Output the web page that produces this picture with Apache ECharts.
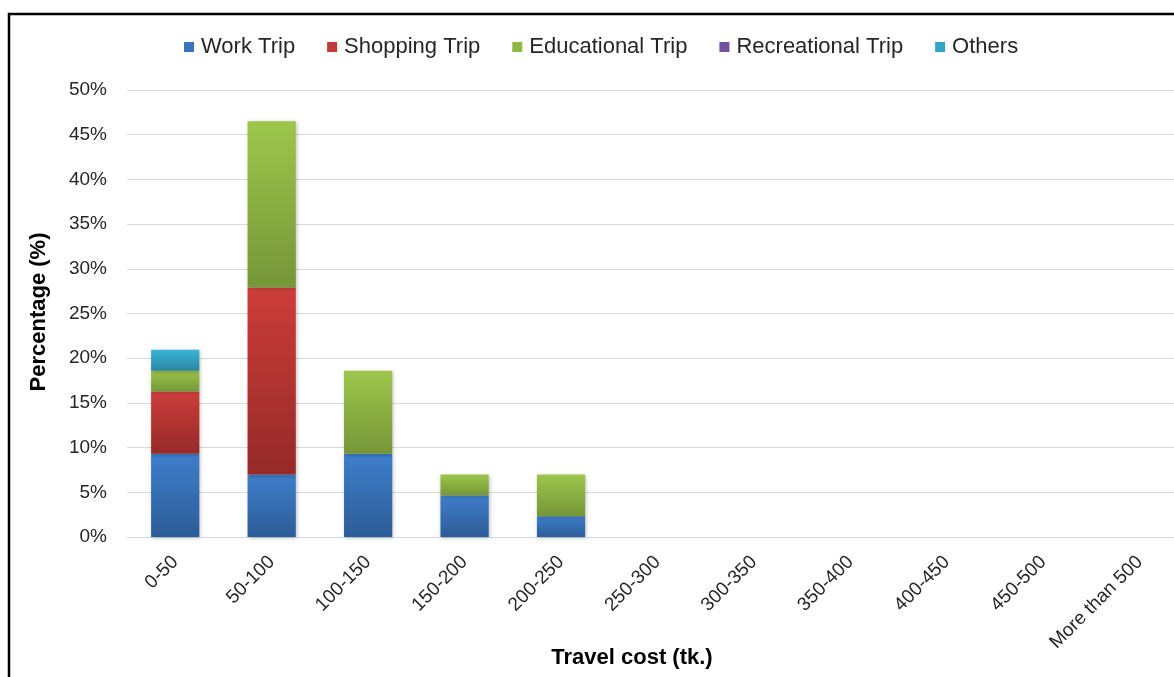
<!DOCTYPE html>
<html>
<head>
<meta charset="utf-8">
<script src="https://cdn.jsdelivr.net/npm/echarts@6/dist/echarts.min.js"></script>
<style>
  html, body { margin: 0; padding: 0; background: #fff; }
  #chart { width: 1174px; height: 677px; }
</style>
</head>
<body>
<div id="chart"></div>
<script>
// Travel cost bands (tk.)
const categories = ['0-50', '50-100', '100-150', '150-200', '200-250', '250-300',
  '300-350', '350-400', '400-450', '450-500', 'More than 500'];

// Share of respondents (%) per trip purpose
const workTrip        = [9.30, 6.98, 9.30, 4.65, 2.33, 0, 0, 0, 0, 0, 0];
const shoppingTrip    = [6.98, 20.93, 0, 0, 0, 0, 0, 0, 0, 0, 0];
const educationalTrip = [2.33, 18.60, 9.30, 2.33, 4.65, 0, 0, 0, 0, 0, 0];
const recreationalTrip = [0, 0, 0, 0, 0, 0, 0, 0, 0, 0, 0];
const others          = [2.33, 0, 0, 0, 0, 0, 0, 0, 0, 0, 0];

const yTicks = [0, 5, 10, 15, 20, 25, 30, 35, 40, 45, 50];

const font = '"Liberation Sans", Arial, sans-serif';

function grad(top, bottom) {
  return new echarts.graphic.LinearGradient(0, 0, 0, 1, [
    { offset: 0, color: top },
    { offset: 1, color: bottom }
  ]);
}

const seriesDefs = [
  { name: 'Work Trip', data: workTrip, top: '#3e7ecb', bottom: '#2d5c97', legend: '#3a73bd' },
  { name: 'Shopping Trip', data: shoppingTrip, top: '#cc3d3a', bottom: '#952a28', legend: '#c0393b' },
  { name: 'Educational Trip', data: educationalTrip, top: '#9dc64b', bottom: '#759638', legend: '#8fb845' },
  { name: 'Recreational Trip', data: recreationalTrip, top: '#8062ad', bottom: '#5d4482', legend: '#7150a0' },
  { name: 'Others', data: others, top: '#39b5d8', bottom: '#2a86a1', legend: '#31a4c6' }
];

const chart = echarts.init(document.getElementById('chart'), null, { renderer: 'canvas' });

chart.setOption({
  backgroundColor: '#ffffff',
  animation: false,
  color: seriesDefs.map(s => s.legend),
  legend: {
    top: 31,
    left: 179,
    itemWidth: 10,
    itemHeight: 10,
    itemGap: 32,
    icon: 'rect',
    textStyle: { fontFamily: font, fontSize: 22, color: '#262626', padding: [0, 0, 0, 2] },
    data: seriesDefs.map(s => ({ name: s.name, itemStyle: { color: s.legend } }))
  },
  grid: {
    left: 127,
    top: 90,
    width: 1061,
    height: 447,
    outerBoundsMode: 'none',
    containLabel: false
  },
  xAxis: {
    type: 'category',
    data: categories,
    axisLine: { lineStyle: { color: '#c9daf0', width: 1 } },
    axisTick: { show: false },
    axisLabel: {
      rotate: 45,
      interval: 0,
      margin: 22,
      fontFamily: font,
      fontSize: 19,
      color: '#262626'
    }
  },
  yAxis: {
    type: 'value',
    min: yTicks[0],
    max: yTicks[yTicks.length - 1],
    interval: 5,
    axisLine: { show: false },
    axisTick: { show: false },
    splitLine: { lineStyle: { color: '#d9d9d9', width: 1 } },
    axisLabel: {
      margin: 20,
      fontFamily: font,
      fontSize: 19,
      color: '#262626',
      formatter: v => v + '%'
    }
  },
  graphic: [
    {
      type: 'rect',
      shape: { x: 9, y: 14, width: 1200, height: 700 },
      style: { fill: 'none', stroke: '#000000', lineWidth: 2.5 },
      silent: true,
      z: 100
    },
    {
      type: 'text',
      x: 39,
      y: 312,
      rotation: Math.PI / 2,
      style: {
        text: 'Percentage (%)',
        fontFamily: font,
        fontSize: 22,
        fontWeight: 'bold',
        fill: '#000',
        align: 'center',
        verticalAlign: 'middle'
      }
    },
    {
      type: 'text',
      x: 632,
      y: 658,
      style: {
        text: 'Travel cost (tk.)',
        fontFamily: font,
        fontSize: 22,
        fontWeight: 'bold',
        fill: '#000',
        align: 'center',
        verticalAlign: 'middle'
      }
    }
  ],
  series: seriesDefs.map(s => ({
    name: s.name,
    type: 'bar',
    stack: 'total',
    barWidth: '50%',
    data: s.data.map(v => (v === 0 ? null : v)),
    itemStyle: {
      color: grad(s.top, s.bottom),
      shadowColor: 'rgba(0,0,0,0.25)',
      shadowBlur: 4,
      shadowOffsetX: 1,
      shadowOffsetY: 1
    }
  }))
});
</script>
</body>
</html>
